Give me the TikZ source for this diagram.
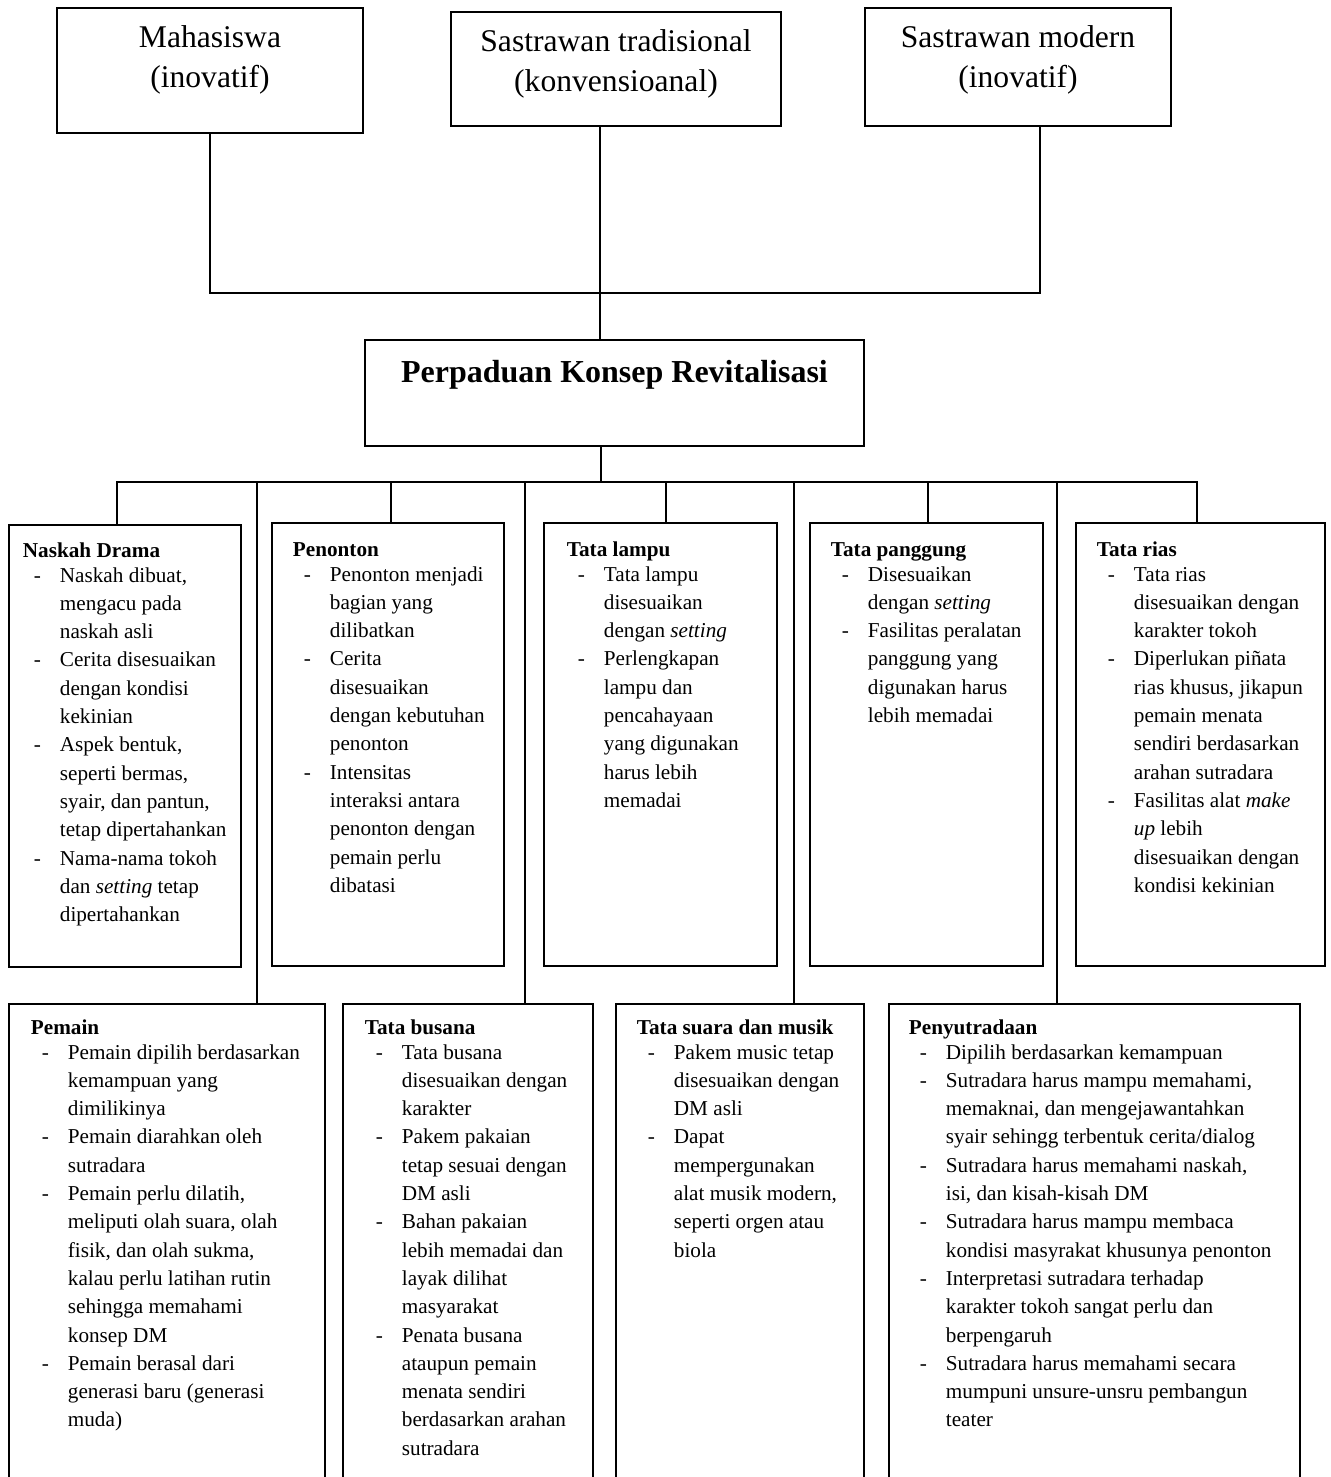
\documentclass[tikz,border=0pt]{standalone}
\usepackage{fontspec}
\setmainfont{Liberation Serif}
\newcommand{\dsh}{\hspace*{11pt}\makebox[26pt][l]{-}}
\newcommand{\ind}{\hspace*{37pt}}
\begin{document}
\begin{tikzpicture}[x=1pt,y=-1pt,line width=1.8pt,
  boxbase/.style={inner sep=0pt,outer sep=0pt,anchor=north west},
  framebox/.style 2 args={boxbase,draw,minimum width=#1pt,minimum height=#2pt},
  openbox/.style 2 args={boxbase,minimum width=#1pt,minimum height=#2pt},
  toptext/.style={inner sep=0pt,anchor=base,font=\fontsize{31.6}{39.5}\selectfont},
  boldtext/.style={inner sep=0pt,anchor=base,font=\fontsize{32}{40}\selectfont\bfseries},
  listtext/.style={inner sep=0pt,anchor=base west,font=\fontsize{21.2}{28.3}\selectfont}]
\useasboundingbox (0,0) rectangle (1330,1477);

% top boxes
\node[framebox={306}{125}] (maha) at (57,8) {};
\node[framebox={330}{114}] (trad) at (451,12) {};
\node[framebox={306}{118}] (modern) at (865,8) {};
\node[framebox={499}{106}] (perp) at (365,340) {};

\node[toptext] (mahaT) at ([yshift=-40pt]maha.north) {\begin{tabular}[t]{@{}c@{}}Mahasiswa\\(inovatif)\end{tabular}};
\node[toptext] (tradT) at ([yshift=-40pt]trad.north) {\begin{tabular}[t]{@{}c@{}}Sastrawan tradisional\\(konvensioanal)\end{tabular}};
\node[toptext] (modernT) at ([yshift=-40pt]modern.north) {\begin{tabular}[t]{@{}c@{}}Sastrawan modern\\(inovatif)\end{tabular}};
\node[boldtext] (perpT) at ([yshift=-42pt]perp.north) {Perpaduan Konsep Revitalisasi};

% connectors top
\coordinate (jr) at (1040,293);
\coordinate (jc) at (600,293);
\draw (maha.south) |- (jr) -- (jr |- modern.south);
\draw (jc |- trad.south) -- (jc |- perp.north);

% row 1 boxes
\node[framebox={232}{442}] (naskah) at (9,525) {};
\node[framebox={232}{443}] (penonton) at (272,523) {};
\node[framebox={233}{443}] (lampu) at (544,523) {};
\node[framebox={233}{443}] (panggung) at (810,523) {};
\node[framebox={249}{443}] (rias) at (1076,523) {};

% row 2 boxes (cut off at the bottom edge)
\node[openbox={316}{473}] (pemain) at (9,1004) {};
\node[openbox={250}{473}] (busana) at (343,1004) {};
\node[openbox={248}{473}] (suara) at (616,1004) {};
\node[openbox={411}{473}] (penyut) at (889,1004) {};
\foreach \b in {pemain,busana,suara,penyut}
  \draw (\b.south west) |- (\b.north east) -- (\b.south east);

% branch connectors
\coordinate (hub) at (601,482);
\draw (hub |- perp.south) -- (hub);
\coordinate (d1) at (117,482);
\coordinate (d2) at (257,482);
\coordinate (d3) at (391,482);
\coordinate (d4) at (525,482);
\coordinate (d5) at (666,482);
\coordinate (d6) at (794,482);
\coordinate (d7) at (928,482);
\coordinate (d8) at (1057,482);
\coordinate (d9) at (1197,482);
\draw (d1 |- naskah.north) -- (d1) -- (d9) -- (d9 |- rias.north);
\draw (d2) -- (d2 |- pemain.north);
\draw (d3) -- (d3 |- penonton.north);
\draw (d4) -- (d4 |- busana.north);
\draw (d5) -- (d5 |- lampu.north);
\draw (d6) -- (d6 |- suara.north);
\draw (d7) -- (d7 |- panggung.north);
\draw (d8) -- (d8 |- penyut.north);

% row 1 texts
\node[listtext] (naskahT) at (22,557) {\begin{tabular}[t]{@{}l@{}}\textbf{Naskah Drama}\\[-3.3pt]
\dsh Naskah dibuat,\\ \ind mengacu pada\\ \ind naskah asli\\
\dsh Cerita disesuaikan\\ \ind dengan kondisi\\ \ind kekinian\\
\dsh Aspek bentuk,\\ \ind seperti bermas,\\ \ind syair, dan pantun,\\ \ind tetap dipertahankan\\
\dsh Nama-nama tokoh\\ \ind dan \textit{setting} tetap\\ \ind dipertahankan\end{tabular}};

\node[listtext] (penontonT) at (292,556) {\begin{tabular}[t]{@{}l@{}}\textbf{Penonton}\\[-3.3pt]
\dsh Penonton menjadi\\ \ind bagian yang\\ \ind dilibatkan\\
\dsh Cerita\\ \ind disesuaikan\\ \ind dengan kebutuhan\\ \ind penonton\\
\dsh Intensitas\\ \ind interaksi antara\\ \ind penonton dengan\\ \ind pemain perlu\\ \ind dibatasi\end{tabular}};

\node[listtext] (lampuT) at (566,556) {\begin{tabular}[t]{@{}l@{}}\textbf{Tata lampu}\\[-3.3pt]
\dsh Tata lampu\\ \ind disesuaikan\\ \ind dengan \textit{setting}\\
\dsh Perlengkapan\\ \ind lampu dan\\ \ind pencahayaan\\ \ind yang digunakan\\ \ind harus lebih\\ \ind memadai\end{tabular}};

\node[listtext] (panggungT) at (830,556) {\begin{tabular}[t]{@{}l@{}}\textbf{Tata panggung}\\[-3.3pt]
\dsh Disesuaikan\\ \ind dengan \textit{setting}\\
\dsh Fasilitas peralatan\\ \ind panggung yang\\ \ind digunakan harus\\ \ind lebih memadai\end{tabular}};

\node[listtext] (riasT) at (1096,556) {\begin{tabular}[t]{@{}l@{}}\textbf{Tata rias}\\[-3.3pt]
\dsh Tata rias\\ \ind disesuaikan dengan\\ \ind karakter tokoh\\
\dsh Diperlukan piñata\\ \ind rias khusus, jikapun\\ \ind pemain menata\\ \ind sendiri berdasarkan\\ \ind arahan sutradara\\
\dsh Fasilitas alat \textit{make}\\ \ind \textit{up} lebih\\ \ind disesuaikan dengan\\ \ind kondisi kekinian\end{tabular}};

% row 2 texts
\node[listtext] (pemainT) at (30,1034) {\begin{tabular}[t]{@{}l@{}}\textbf{Pemain}\\[-3.3pt]
\dsh Pemain dipilih berdasarkan\\ \ind kemampuan yang\\ \ind dimilikinya\\
\dsh Pemain diarahkan oleh\\ \ind sutradara\\
\dsh Pemain perlu dilatih,\\ \ind meliputi olah suara, olah\\ \ind fisik, dan olah sukma,\\ \ind kalau perlu latihan rutin\\ \ind sehingga memahami\\ \ind konsep DM\\
\dsh Pemain berasal dari\\ \ind generasi baru (generasi\\ \ind muda)\end{tabular}};

\node[listtext] (busanaT) at (364,1034) {\begin{tabular}[t]{@{}l@{}}\textbf{Tata busana}\\[-3.3pt]
\dsh Tata busana\\ \ind disesuaikan dengan\\ \ind karakter\\
\dsh Pakem pakaian\\ \ind tetap sesuai dengan\\ \ind DM asli\\
\dsh Bahan pakaian\\ \ind lebih memadai dan\\ \ind layak dilihat\\ \ind masyarakat\\
\dsh Penata busana\\ \ind ataupun pemain\\ \ind menata sendiri\\ \ind berdasarkan arahan\\ \ind sutradara\end{tabular}};

\node[listtext] (suaraT) at (636,1034) {\begin{tabular}[t]{@{}l@{}}\textbf{Tata suara dan musik}\\[-3.3pt]
\dsh Pakem music tetap\\ \ind disesuaikan dengan\\ \ind DM asli\\
\dsh Dapat\\ \ind mempergunakan\\ \ind alat musik modern,\\ \ind seperti orgen atau\\ \ind biola\end{tabular}};

\node[listtext] (penyutT) at (908,1034) {\begin{tabular}[t]{@{}l@{}}\textbf{Penyutradaan}\\[-3.3pt]
\dsh Dipilih berdasarkan kemampuan\\
\dsh Sutradara harus mampu memahami,\\ \ind memaknai, dan mengejawantahkan\\ \ind syair sehingg terbentuk cerita/dialog\\
\dsh Sutradara harus memahami naskah,\\ \ind isi, dan kisah-kisah DM\\
\dsh Sutradara harus mampu membaca\\ \ind kondisi masyrakat khusunya penonton\\
\dsh Interpretasi sutradara terhadap\\ \ind karakter tokoh sangat perlu dan\\ \ind berpengaruh\\
\dsh Sutradara harus memahami secara\\ \ind mumpuni unsure-unsru pembangun\\ \ind teater\end{tabular}};
\end{tikzpicture}
\end{document}
